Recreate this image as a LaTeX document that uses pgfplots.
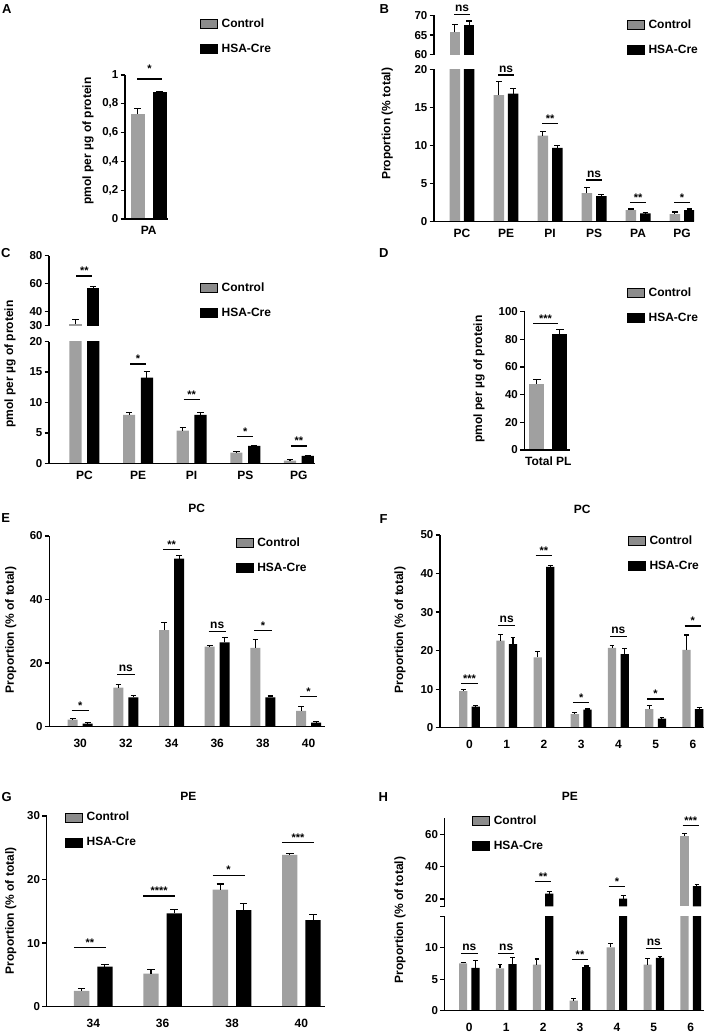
\documentclass[border=0pt]{standalone}
\usepackage{pgfplots}
\pgfplotsset{compat=1.18}
\usepackage{pgfplotstable}
\usepackage{fontspec}
\setmainfont{Liberation Sans}
\definecolor{ctrl}{RGB}{160,160,160}
\definecolor{ctrlleg}{RGB}{140,140,140}
\newcommand{\tickf}{\fontsize{11.5}{13}\selectfont\bfseries}
\newcommand{\lblf}{\fontsize{12}{14}\selectfont\bfseries}
\newcommand{\lgf}{\fontsize{12}{14}\selectfont\bfseries}
\newcommand{\starf}{\fontsize{11}{12}\selectfont\bfseries}
\newcommand{\letf}{\fontsize{13}{15}\selectfont\bfseries}

\pgfplotsset{
 panel/.style={
   scale only axis, clip mode=individual, enlargelimits=false, axis on top,
   axis x line*=bottom, axis y line*=left,
   axis line style={-, line width=1.3pt, black},
   tick align=outside, major tick length=4.5pt,
   ytick style={line width=1.3pt, black},
   xtick style={draw=none},
   yticklabel style={font=\tickf, inner sep=2pt},
   xticklabel style={font=\lblf, anchor=north, inner sep=0pt},
   /pgf/number format/assume math mode=true,
   error bars/y dir=plus, error bars/y explicit,
   error bars/error bar style={line width=1.1pt, draw=black, solid},
   error bars/error mark=-,
   legend image code/.code={\fill[##1] (0pt,-4.5pt) rectangle (17pt,4.5pt); \path (21pt,0pt);},
   legend style={draw=none, fill=none, anchor=north west, font=\lgf, row sep=15pt,
     inner sep=0pt, nodes={inner xsep=0pt, inner ysep=0pt}},
   legend cell align=left,
 },
 upperpanel/.style={panel, axis x line=none},
 cap/.style={error bars/error mark options={rotate=90, line width=1.1pt, draw=black, solid, mark size=#1}},
 gbar/.style={ybar, bar width=#1pt, bar shift=0pt, fill=ctrl, draw=none, forget plot},
 kbar/.style={ybar, bar width=#1pt, bar shift=0pt, fill=black, draw=none, forget plot},
}

% #1 table, #2 bar width (pt), #3 half distance between bar centres (axis units)
\newcommand{\bars}[3]{%
 \addplot[gbar=#2] table[x expr=\thisrow{x}-#3, y=g, y error=ge]{#1};
 \addplot[kbar=#2] table[x expr=\thisrow{x}+#3, y=b, y error=be]{#1};
}
\newcommand{\leg}{\addlegendimage{fill=ctrlleg}\addlegendentry{Control}\addlegendimage{fill=black}\addlegendentry{HSA-Cre}}
\newcommand{\sig}[4]{\draw[line width=1.2pt] ([xshift=-#3pt]axis cs:#1,#2) -- ([xshift=#3pt]axis cs:#1,#2); \node[anchor=south, inner sep=0pt, yshift=1pt, font=\starf] at (axis cs:#1,#2) {#4};}
\newcommand{\ns}[3]{\draw[line width=1.2pt] ([xshift=-#3pt]axis cs:#1,#2) -- ([xshift=#3pt]axis cs:#1,#2); \node[anchor=south, inner sep=0pt, yshift=2.5pt, font=\lblf] at (axis cs:#1,#2) {ns};}

\pgfplotstableread{
x g ge b be
0 0.73 0.035 0.88 0.005
}\tabA
\pgfplotstableread{
x g ge b be
0 65.7 2.05 67.7 0.9
1 16.6 1.75 16.8 0.65
2 11.3 0.5 9.7 0.3
3 3.76 0.7 3.37 0.17
4 1.53 0.13 1.09 0.09
5 1.0 0.27 1.53 0.13
}\tabB
\pgfplotstableread{
x g ge b be
0 31.0 3.5 56.8 1.2
1 7.95 0.45 14.1 0.95
2 5.36 0.5 7.95 0.45
3 1.75 0.18 2.85 0.15
4 0.45 0.2 1.2 0.15
}\tabC
\pgfplotstableread{
x g ge b be
0 47.8 2.9 84.1 2.7
}\tabD
\pgfplotstableread{
x g ge b be
0 2.2 0.4 1.0 0.25
1 12.3 1.1 9.2 0.55
2 30.4 2.5 52.9 0.9
3 25.2 0.4 26.5 1.6
4 24.8 2.7 9.2 0.45
5 5.0 1.3 1.3 0.25
}\tabE
\pgfplotstableread{
x g ge b be
0 9.5 0.3 5.45 0.2
1 22.6 1.5 21.7 1.8
2 18.25 1.55 41.7 0.5
3 3.55 0.45 4.67 0.17
4 20.7 0.6 19.1 1.4
5 4.84 0.86 2.34 0.36
6 20.2 3.85 4.84 0.46
}\tabF
\pgfplotstableread{
x g ge b be
0 2.5 0.4 6.3 0.4
1 5.2 0.6 14.7 0.6
2 18.4 0.9 15.2 1.0
3 23.9 0.2 13.6 0.9
}\tabG
\pgfplotstableread{
x g ge b be
0 7.5 0.2 6.8 1.1
1 6.7 0.7 7.4 1.1
2 7.3 0.9 23.3 1.4
3 1.6 0.4 6.9 0.2
4 10.05 0.55 20.3 1.6
5 7.3 1.0 8.4 0.15
6 59.0 1.6 27.9 0.8
}\tabH

\begin{document}
\begin{tikzpicture}
\path[use as bounding box] (0pt,0pt) rectangle (709pt,1035pt);

% ---------- A ----------
\begin{axis}[panel, cap=3.5pt, at={(125pt,816pt)}, anchor=south west, width=43pt, height=144pt,
  xmin=-23.7, xmax=19.3, ymin=0, ymax=1, ytick={0,0.2,0.4,0.6,0.8,1},
  yticklabel style={/pgf/number format/.cd, use comma, fixed, precision=1},
  xtick={0}, xticklabels={PA}, xticklabel shift=2.5pt,
  legend style={at={(1.744,1.394)}}]
\bars{\tabA}{14}{11}
\draw[line width=1.2pt] (axis cs:-11.7,0.972) -- (axis cs:13.3,0.972);
\node[anchor=south, inner sep=0pt, yshift=6pt, font=\starf] at (axis cs:0.8,0.972) {*};
\leg
\end{axis}

% ---------- B ----------
\begin{axis}[panel, cap=2.8pt, at={(434pt,813.3pt)}, anchor=south west, width=260pt, height=152.4pt,
  xmin=-0.636, xmax=5.27, ymin=0, ymax=20, ytick={0,5,10,15,20},
  xtick={0,1,2,3,4,5}, xticklabels={PC,PE,PI,PS,PA,PG}, xticklabel shift=2.5pt]
\bars{\tabB}{10.5}{0.1636}
\ns{1}{19.26}{8}
\sig{2}{12.9}{8}{**}
\ns{3}{5.47}{8}
\sig{4}{2.49}{8}{**}
\sig{5}{2.49}{8}{*}
\end{axis}
\begin{axis}[upperpanel, cap=2.8pt, at={(434pt,980.3pt)}, anchor=south west, width=260pt, height=39.2pt,
  xmin=-0.636, xmax=5.27, ymin=60, ymax=70, ytick={60,65,70},
  legend style={at={(0.742,0.903)}}]
\addplot[gbar=10.5] coordinates {(-0.1636,65.7) +- (0,2.05)};
\addplot[kbar=10.5] coordinates {(0.1636,67.7) +- (0,0.9)};
\ns{0}{70.25}{8}
\leg
\end{axis}

% ---------- C ----------
\begin{axis}[panel, cap=3.2pt, at={(49pt,571.7pt)}, anchor=south west, width=266pt, height=121.6pt,
  xmin=-0.66, xmax=4.30, ymin=0, ymax=20, ytick={0,5,10,15,20},
  xtick={0,1,2,3,4}, xticklabels={PC,PE,PI,PS,PG}, xticklabel shift=3.5pt]
\bars{\tabC}{12.2}{0.166}
\sig{1}{16.33}{8}{*}
\sig{2}{10.46}{8}{**}
\sig{3}{4.37}{8}{*}
\sig{4}{2.85}{8}{**}
\end{axis}
\begin{axis}[upperpanel, cap=3.2pt, at={(49pt,709.3pt)}, anchor=south west, width=266pt, height=70pt,
  xmin=-0.66, xmax=4.30, ymin=30, ymax=80, ytick={30,40,60,80},
  legend style={at={(0.568,0.616)}}]
\addplot[gbar=12.2] coordinates {(-0.166,31.0) +- (0,3.5)};
\addplot[kbar=12.2] coordinates {(0.166,56.8) +- (0,1.2)};
\sig{0}{65.5}{8}{**}
\leg
\end{axis}

% ---------- D ----------
\begin{axis}[panel, cap=3.8pt, at={(524.5pt,585pt)}, anchor=south west, width=45.5pt, height=138.5pt,
  xmin=-23.8, xmax=21.7, ymin=0, ymax=100, ytick={0,20,40,60,80,100},
  xtick={0}, xticklabels={Total PL}, xticklabel shift=2pt,
  legend style={at={(2.253,1.173)}}]
\bars{\tabD}{15.3}{11.5}
\sig{-2.8}{91.5}{12.5}{***}
\leg
\end{axis}

% ---------- E ----------
\begin{axis}[panel, cap=2.8pt, at={(49.3pt,308.3pt)}, anchor=south west, width=275.7pt, height=190.7pt,
  xmin=-0.677, xmax=5.36, ymin=0, ymax=60, ytick={0,20,40,60},
  xtick={0,1,2,3,4,5}, xticklabels={30,32,34,36,38,40}, xticklabel shift=7.5pt,
  legend style={at={(0.676,0.992)}}]
\bars{\tabE}{10}{0.1642}
\sig{0}{5.0}{8.7}{*}
\ns{1}{16.5}{8.7}
\sig{2}{55.8}{8.7}{**}
\ns{3}{29.9}{8.7}
\sig{4}{30.2}{8.7}{*}
\sig{5}{9.4}{8.7}{*}
\leg
\end{axis}

% ---------- F ----------
\begin{axis}[panel, cap=2.4pt, at={(440pt,307.3pt)}, anchor=south west, width=264pt, height=192.7pt,
  xmin=-0.793, xmax=6.30, ymin=0, ymax=50, ytick={0,10,20,30,40,50},
  xtick={0,1,2,3,4,5,6}, xticklabels={0,1,2,3,4,5,6}, xticklabel shift=7.5pt,
  legend style={at={(0.712,0.998)}}]
\bars{\tabF}{8.3}{0.1693}
\sig{0}{11.5}{8.3}{***}
\ns{1}{26.6}{8.3}
\sig{2}{44.6}{8.3}{**}
\sig{3}{6.57}{8.3}{*}
\ns{4}{23.6}{8.3}
\sig{5}{7.44}{8.3}{*}
\sig{6}{26.4}{8.3}{*}
\leg
\end{axis}

% ---------- G ----------
\begin{axis}[panel, cap=3.8pt, at={(46.7pt,28.3pt)}, anchor=south west, width=278.3pt, height=190.7pt,
  xmin=-0.671, xmax=3.34, ymin=0, ymax=30, ytick={0,10,20,30},
  xtick={0,1,2,3}, xticklabels={34,36,38,40}, xticklabel shift=7.5pt,
  legend style={at={(0.066,1.021)}}]
\bars{\tabG}{15.3}{0.1679}
\sig{-0.05}{9.28}{16}{**}
\sig{0.95}{17.4}{16}{****}
\sig{1.95}{20.7}{16}{*}
\sig{2.95}{25.8}{16}{***}
\leg
\end{axis}

% ---------- H ----------
\begin{axis}[panel, cap=2.4pt, at={(444.7pt,24.3pt)}, anchor=south west, width=259.3pt, height=94.5pt,
  xmin=-0.667, xmax=6.36, ymin=0, ymax=15, ytick={0,5,10},
  extra y ticks={15}, extra y tick labels={},
  xtick={0,1,2,3,4,5,6}, xticklabels={0,1,2,3,4,5,6}, xticklabel shift=8pt]
\bars{\tabH}{8.2}{0.168}
\ns{0}{9.1}{8.2}
\ns{1}{9.1}{8.2}
\sig{3}{8.16}{8.2}{**}
\ns{5}{9.9}{8.2}
\end{axis}
\begin{axis}[upperpanel, cap=2.4pt, at={(444.7pt,128.7pt)}, anchor=south west, width=259.3pt, height=88.2pt,
  xmin=-0.667, xmax=6.36, ymin=15.5, ymax=70, ytick={20,40,60},
  extra y ticks={15.5}, extra y tick labels={},
  legend style={at={(0.106,1.032)}}]
\addplot[gbar=8.2] coordinates {(5.832,59.0) +- (0,1.6)};
\addplot[kbar=8.2] coordinates {(2.168,23.3) +- (0,1.4) (4.168,20.3) +- (0,1.6) (6.168,27.9) +- (0,0.8)};
\sig{2}{30.9}{8.2}{**}
\sig{4}{27.8}{8.2}{*}
\sig{6}{65.3}{8.2}{***}
\leg
\end{axis}

% ---------- axis labels, titles, panel letters ----------
\node[rotate=90, font=\lblf] at (88pt,894pt) {pmol per µg of protein};
\node[rotate=90, font=\lblf] at (387.3pt,911pt) {Proportion (\% total)};
\node[rotate=90, font=\lblf] at (10pt,671pt) {pmol per µg of protein};
\node[rotate=90, font=\lblf] at (479pt,656pt) {pmol per µg of protein};
\node[rotate=90, font=\lblf] at (10.8pt,405pt) {Proportion (\% of total)};
\node[rotate=90, font=\lblf] at (400pt,405pt) {Proportion (\% of total)};
\node[rotate=90, font=\lblf] at (10.8pt,124.2pt) {Proportion (\% of total)};
\node[rotate=90, font=\lblf] at (400pt,115pt) {Proportion (\% of total)};

\node[font=\lblf] at (196.7pt,527pt) {PC};
\node[font=\lblf] at (582.3pt,526pt) {PC};
\node[font=\lblf] at (188.3pt,239pt) {PE};
\node[font=\lblf] at (569.8pt,239pt) {PE};

\node[font=\letf] at (6.7pt,1025.5pt) {A};
\node[font=\letf] at (384.2pt,1026.3pt) {B};
\node[font=\letf] at (5.8pt,782pt) {C};
\node[font=\letf] at (383.7pt,781.7pt) {D};
\node[font=\letf] at (5.8pt,517pt) {E};
\node[font=\letf] at (383.5pt,516.3pt) {F};
\node[font=\letf] at (6.7pt,238.3pt) {G};
\node[font=\letf] at (383.3pt,238.3pt) {H};
\end{tikzpicture}
\end{document}
